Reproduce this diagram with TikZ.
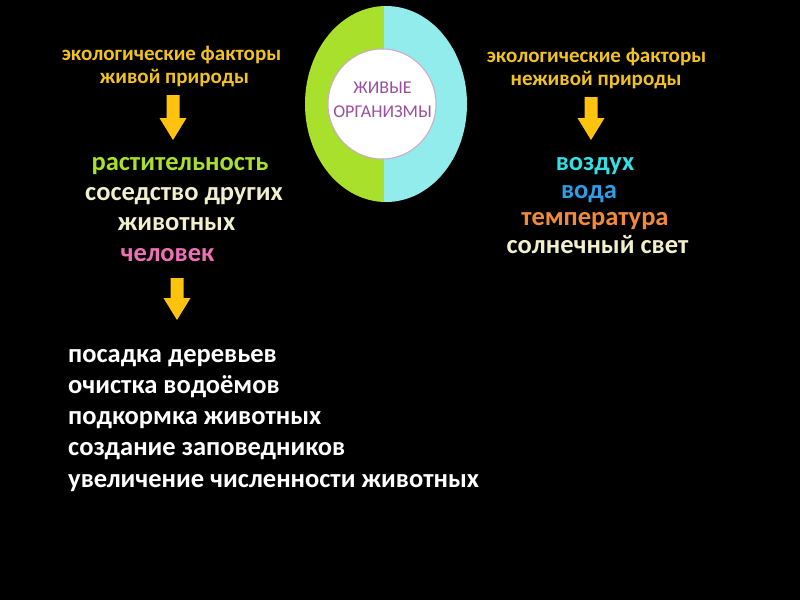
\documentclass[tikz,border=0pt]{standalone}
\usepackage{fontspec}
\setmainfont{Carlito}
\definecolor{gold}{HTML}{F2C21E}
\definecolor{lgreen}{HTML}{A9E02C}
\definecolor{lcyan}{HTML}{92ECEC}
\definecolor{purp}{HTML}{9A4E9C}
\definecolor{cream}{HTML}{F2F0CC}
\definecolor{pinkc}{HTML}{F070B8}
\definecolor{cyant}{HTML}{33E0E6}
\definecolor{bluet}{HTML}{2E9EE6}
\definecolor{orant}{HTML}{F28A3A}
\definecolor{arr}{HTML}{FFC20E}
\newcommand{\yarrow}[3]{%
  \fill[arr] (#1-6.5,#2) -- (#1+6.5,#2) -- (#1+6.5,#3-22) -- (#1+13.5,#3-22)
    -- (#1,#3) -- (#1-13.5,#3-22) -- (#1-6.5,#3-22) -- cycle;}
\begin{document}
\begin{tikzpicture}[x=1pt,y=-1pt,
  title/.style={font=\fontsize{21}{21}\selectfont\bfseries, text=gold, inner sep=0pt, anchor=base},
  item/.style={font=\fontsize{26.5}{26.5}\selectfont\bfseries, inner sep=0pt, anchor=base},
  litem/.style={font=\fontsize{26.5}{26.5}\selectfont\bfseries, text=white, inner sep=0pt, anchor=base west},
  org/.style={font=\fontsize{18}{18}\selectfont, text=purp, inner sep=0pt, anchor=base}]
\fill[black] (0,0) rectangle (800,600);
\useasboundingbox (0,0) rectangle (800,600);
% ring
\begin{scope}
\clip (386,104) ellipse [x radius=81, y radius=98];
\fill[lgreen] (300,0) rectangle (384,210);
\fill[lcyan] (384,0) rectangle (470,210);
\end{scope}
\fill[white] (382,104) ellipse [x radius=54, y radius=55];
\draw[purp!50, line width=1pt] (382,104) ellipse [x radius=54, y radius=55];
\node[org] (o1) at (382.5,93) {ЖИВЫЕ};
\node[org] (o2) at (382.5,117) {ОРГАНИЗМЫ};
% titles
\node[title] (lt1) at (171.5,60) {экологические факторы};
\node[title] (lt2) at (174.5,83) {живой природы};
\node[title] (rt1) at (596.5,62) {экологические факторы};
\node[title] (rt2) at (596,85) {неживой природы};
% arrows
\yarrow{173}{95}{140}
\yarrow{591}{97}{140}
\yarrow{177}{278}{320}
% left list
\node[item, text=lgreen] (l1) at (180,170) {растительность};
\node[item, text=cream] (l2) at (184,200) {соседство других};
\node[item, text=cream] (l3) at (176.5,230) {животных};
\node[item, text=pinkc] (l4) at (167.5,261) {человек};
% right list
\node[item, text=cyant] (r1) at (595,170) {воздух};
\node[item, text=bluet] (r2) at (589,198) {вода};
\node[item, text=orant] (r3) at (595,225) {температура};
\node[item, text=cream] (r4) at (597.5,253) {солнечный свет};
% bottom list
\node[litem] (b1) at (68,362) {посадка деревьев};
\node[litem] (b2) at (68,393) {очистка водоёмов};
\node[litem] (b3) at (68,424) {подкормка животных};
\node[litem] (b4) at (68,455) {создание заповедников};
\node[litem] (b5) at (68,487) {увеличение численности животных};
\end{tikzpicture}
\end{document}
